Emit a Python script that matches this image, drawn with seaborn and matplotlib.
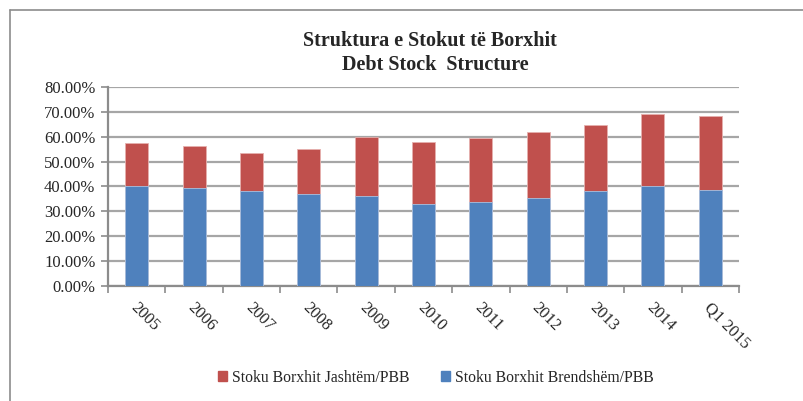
import matplotlib
matplotlib.use("Agg")
import matplotlib.pyplot as plt
import matplotlib.transforms as mtransforms
from matplotlib.patches import Patch
import seaborn as sns
import pandas as pd

categories = ["2005", "2006", "2007", "2008", "2009", "2010", "2011", "2012", "2013", "2014", "Q1 2015"]
domestic = [40.2, 39.4, 38.2, 37.0, 36.2, 32.8, 33.8, 35.2, 38.2, 40.1, 38.6]
external = [17.2, 16.7, 15.2, 18.0, 23.6, 25.0, 25.7, 26.8, 26.6, 29.1, 29.8]
yticks = [0, 10, 20, 30, 40, 50, 60, 70, 80]
label_ext = "Stoku Borxhit Jashtëm/PBB"
label_dom = "Stoku Borxhit Brendshëm/PBB"
title = "Struktura e Stokut të Borxhit\n  Debt Stock  Structure"

red = "#C0504D"
blue = "#4F81BD"
grid_c = "#A6A6A6"

sns.set_theme(style="white")
plt.rcParams["font.family"] = ["Liberation Serif", "DejaVu Serif"]

df = pd.DataFrame({"cat": categories, "dom": domestic,
                   "total": [d + e for d, e in zip(domestic, external)]})

fig = plt.figure(figsize=(8.04, 4.01), dpi=100)
ax = fig.add_axes([108 / 804, (401 - 286) / 401, (739 - 108) / 804, (286 - 87) / 401])

sns.barplot(data=df, x="cat", y="total", color=red, width=0.4, ax=ax,
            edgecolor="#E6B0AE", linewidth=0.6, saturation=1, zorder=3)
sns.barplot(data=df, x="cat", y="dom", color=blue, width=0.4, ax=ax,
            edgecolor="#A9C1E0", linewidth=0.6, saturation=1, zorder=4)

ax.set_xlim(-0.5, len(categories) - 0.5)
ax.set_ylim(0, 80)
ax.set_yticks(yticks)
ax.set_yticklabels([f"{v:.2f}%" for v in yticks], fontsize=12)
ax.yaxis.grid(True, color=grid_c, linewidth=1.6, zorder=0)
ax.set_axisbelow(True)
ax.set_xlabel("")
ax.set_ylabel("")

for s in ["top", "right"]:
    ax.spines[s].set_visible(False)
for s in ["left", "bottom"]:
    ax.spines[s].set_color("#8C8C8C")
    ax.spines[s].set_linewidth(1.6)

ax.tick_params(axis="y", which="major", left=True, length=5, width=1.2, color="#8C8C8C", pad=4)
# category boundary ticks
ax.set_xticks([i - 0.5 for i in range(len(categories) + 1)], minor=False)
ax.set_xticklabels([])
ax.tick_params(axis="x", which="major", bottom=True, length=5, width=1.2, color="#8C8C8C")
ax.set_xticks(range(len(categories)), minor=True)
ax.set_xticklabels(categories, minor=True, rotation=-45, ha="left", va="top",
                   rotation_mode="anchor", fontsize=12)
ax.tick_params(axis="x", which="minor", bottom=False, length=0, pad=10)
offset = mtransforms.ScaledTranslation(2 / 100, 0, fig.dpi_scale_trans)
for lbl in ax.xaxis.get_minorticklabels():
    lbl.set_transform(lbl.get_transform() + offset)

fig.text(430 / 804, 1 - 53 / 401, title, ha="center", va="center", fontsize=14.5,
         fontweight="bold", linespacing=1.2)

handles = [Patch(color=red, label=label_ext), Patch(color=blue, label=label_dom)]
fig.legend(handles=handles, loc="center", bbox_to_anchor=(436 / 804, 1 - 378 / 401),
           ncol=2, frameon=False, fontsize=11.3, handlelength=0.6, handleheight=0.6,
           handletextpad=0.3, columnspacing=2.0)

# outer frame
fig.add_artist(plt.Line2D([10 / 804, 10 / 804], [0, 1 - 10 / 401], transform=fig.transFigure,
                          color="#8C8C8C", linewidth=1.2))
fig.add_artist(plt.Line2D([10 / 804, 1], [1 - 10 / 401, 1 - 10 / 401], transform=fig.transFigure,
                          color="#8C8C8C", linewidth=1.2))

fig.savefig("out.png", dpi=100)
